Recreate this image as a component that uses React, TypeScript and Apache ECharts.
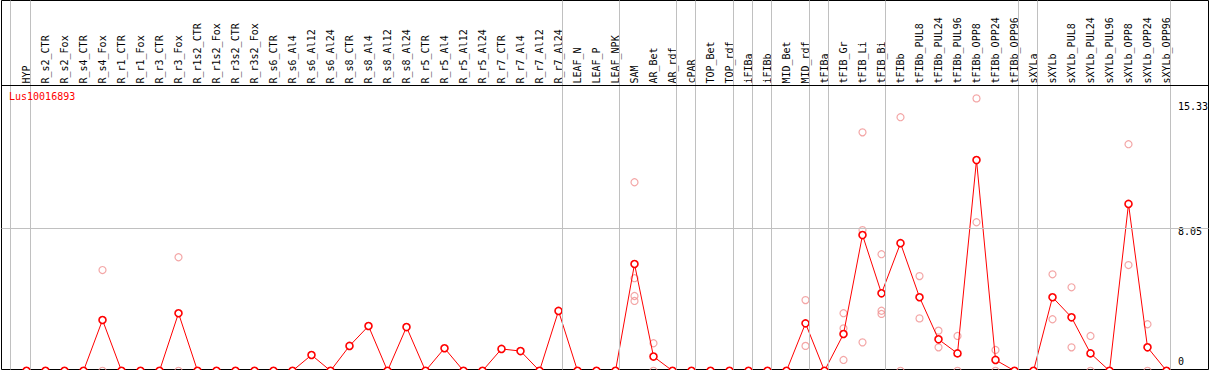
import React, { useEffect, useRef } from "react";
import * as echarts from "echarts";

const title = "Lus10016893";

const categories = [
  "HYP", "R_s2_CTR", "R_s2_Fox", "R_s4_CTR", "R_s4_Fox", "R_r1_CTR", "R_r1_Fox", "R_r3_CTR", "R_r3_Fox", "R_r1s2_CTR",
  "R_r1s2_Fox", "R_r3s2_CTR", "R_r3s2_Fox", "R_s6_CTR", "R_s6_Al4", "R_s6_Al12", "R_s6_Al24", "R_s8_CTR", "R_s8_Al4", "R_s8_Al12",
  "R_s8_Al24", "R_r5_CTR", "R_r5_Al4", "R_r5_Al12", "R_r5_Al24", "R_r7_CTR", "R_r7_Al4", "R_r7_Al12", "R_r7_Al24", "LEAF_N",
  "LEAF_P", "LEAF_NPK", "SAM", "AR_Bet", "AR_rdf", "cPAR", "TOP_Bet", "TOP_rdf", "iFIBa", "iFIBb",
  "MID_Bet", "MID_rdf", "tFIBa", "tFIB_Gr", "tFIB_Li", "tFIB_Bi", "tFIBb", "tFIBb_PUL8", "tFIBb_PUL24", "tFIBb_PUL96",
  "tFIBb_OPP8", "tFIBb_OPP24", "tFIBb_OPP96", "sXYLa", "sXYLb", "sXYLb_PUL8", "sXYLb_PUL24", "sXYLb_PUL96", "sXYLb_OPP8", "sXYLb_OPP24",
  "sXYLb_OPP96",
];

const _ = null;

const means = [
  0, 0, 0, 0, 2.86, 0, 0, 0, 3.24, 0,
  0, 0, 0, 0, 0, 0.89, 0, 1.4, 2.52, 0,
  2.46, 0, 1.27, 0, 0, 1.23, 1.11, 0, 3.37, 0,
  0, 0, 6.01, 0.8, 0, 0, 0, 0, 0, 0,
  0, 2.67, 0, 2.07, 7.64, 4.36, 7.18, 4.14, 1.77, 0.98,
  11.86, 0.61, 0, 0, 4.14, 3.01, 0.98, 0, 9.39, 1.32,
  0,
];

const rep1 = [
  _, _, _, _, 5.67, _, _, _, 6.39, _,
  _, _, _, _, _, _, _, _, _, _,
  _, _, _, _, _, _, _, _, _, _,
  _, _, 10.61, 1.55, _, _, _, _, _, _,
  _, 3.98, _, 3.24, 13.42, 6.56, 14.27, 5.33, 2.26, 1.96,
  15.33, 1.17, _, _, 5.43, 4.7, 1.96, _, 12.75, 2.62,
  _,
];

const rep2 = [
  _, _, _, _, 0, _, _, _, 0, _,
  _, _, _, _, _, _, _, _, _, _,
  _, _, _, _, _, _, _, _, _, _,
  _, _, 5.21, 0, _, _, _, _, _, _,
  _, 1.4, _, 2.39, 7.92, 3.38, 0, 2.95, 1.32, 0,
  8.36, 0, _, _, 2.9, 1.32, 0, _, 5.95, 0,
  _,
];

const rep3 = [
  _, _, _, _, _, _, _, _, _, _,
  _, _, _, _, _, _, _, _, _, _,
  _, _, _, _, _, _, _, _, _, _,
  _, _, 4.21, _, _, _, _, _, _, _,
  _, _, _, 0.61, 1.6, 3.2, _, _, _, _,
  _, _, _, _, _, _, _, _, _, _,
  _,
];

const rep4 = [
  _, _, _, _, _, _, _, _, _, _,
  _, _, _, _, _, _, _, _, _, _,
  _, _, _, _, _, _, _, _, _, _,
  _, _, 3.93, _, _, _, _, _, _, _,
  _, _, _, _, _, _, _, _, _, _,
  _, _, _, _, _, _, _, _, _, _,
  _,
];

// indices of the last category of each group (a separator follows each)
const groupEnds = [-1, 0, 28, 31, 34, 35, 37, 38, 39, 41, 42, 45, 52, 53, 60];

const yTickValues = [0, 8.05, 15.33];
const yTickLabels = ["0", "8.05", "15.33"];
const yGridValue = 8.05;

const FONT = "'DejaVu Sans Mono', monospace";

export default function App() {
  const ref = useRef<HTMLDivElement>(null);

  useEffect(() => {
    document.body.style.margin = "0";
    if (!ref.current) return;
    const chart = echarts.init(ref.current, null, { renderer: "svg" });

    const W = 1209;
    const H = 370;
    const X0 = 26.5;
    const STEP = 19;
    const FRAME_L = 1.5;
    const FRAME_R = 1208.5;
    const PLOT_R = 1170.5;
    const FRAME_T = 0.5;
    const FRAME_B = 369.5;
    const PLOT_T = 85.5;
    const ZERO_Y = 370.8;
    const PX = 17.77;

    const xMin = (FRAME_L - X0) / STEP;
    const xMaxFrame = (FRAME_R - X0) / STEP;
    const xMaxPlot = (PLOT_R - X0) / STEP;
    const yMinFrame = (ZERO_Y - FRAME_B) / PX;
    const yMaxFrame = (ZERO_Y - FRAME_T) / PX;
    const yMaxPlot = (ZERO_Y - PLOT_T) / PX;

    const sepValues = groupEnds.map((g) => (g === -1 ? -16 / STEP : g + 4 / STEP));

    const repData: number[][] = [];
    [rep1, rep2, rep3, rep4].forEach((r) =>
      r.forEach((v, i) => {
        if (v !== null && v !== undefined) repData.push([i, v as number]);
      })
    );
    const meanData = means.map((v, i) => [i, v]);

    const shifts = ["c", "b", "a"];

    chart.setOption({
      animation: false,
      backgroundColor: "#fff",
      title: {
        text: title,
        left: 9,
        top: 91,
        padding: 0,
        textStyle: { color: "#ff0000", fontSize: 10, fontWeight: "normal", fontFamily: FONT },
      },
      grid: [
        {
          left: FRAME_L,
          top: FRAME_T,
          width: FRAME_R - FRAME_L,
          height: FRAME_B - FRAME_T,
          show: true,
          borderColor: "#000",
          borderWidth: 1,
          backgroundColor: "transparent",
          outerBoundsMode: "none",
        },
        {
          left: FRAME_L,
          top: PLOT_T,
          width: PLOT_R - FRAME_L,
          height: ZERO_Y - PLOT_T,
          show: false,
          outerBoundsMode: "none",
        },
      ],
      xAxis: [
        {
          gridIndex: 0,
          type: "value",
          min: xMin,
          max: xMaxFrame,
          show: false,
        },
        {
          gridIndex: 1,
          type: "value",
          position: "top",
          min: xMin,
          max: xMaxPlot,
          axisLine: { show: false },
          axisTick: { show: false },
          splitLine: { show: false },
          axisLabel: {
            customValues: categories.map((_c, i) => i),
            formatter: (v: number) => categories[Math.round(v)] ?? "",
            rotate: 90,
            margin: 2,
            color: "#000",
            fontSize: 10,
            fontFamily: FONT,
          },
        },
      ],
      yAxis: [
        {
          gridIndex: 0,
          type: "value",
          min: yMinFrame,
          max: yMaxFrame,
          show: false,
        },
        {
          gridIndex: 1,
          type: "value",
          position: "right",
          min: 0,
          max: yMaxPlot,
          axisLine: { show: false },
          axisTick: { show: false },
          splitLine: { show: false },
          axisLabel: {
            customValues: yTickValues,
            margin: 7.5,
            color: "#000",
            fontSize: 10,
            fontFamily: FONT,
            formatter: (v: number) => {
              const k = yTickValues.indexOf(v);
              return "{" + shifts[k] + "|" + yTickLabels[k] + "}";
            },
            rich: {
              a: { padding: [17, 0, 0, 0], fontSize: 10, fontFamily: FONT, color: "#000" },
              b: { padding: [8, 0, 0, 0], fontSize: 10, fontFamily: FONT, color: "#000" },
              c: { padding: [0, 0, 18, 0], fontSize: 10, fontFamily: FONT, color: "#000" },
            },
          },
        },
      ],
      series: [
        {
          type: "line",
          xAxisIndex: 0,
          yAxisIndex: 0,
          data: [[0, yMinFrame]],
          symbol: "none",
          lineStyle: { opacity: 0 },
          silent: true,
          z: 1,
          markLine: {
            silent: true,
            symbol: ["none", "none"],
            label: { show: false },
            animation: false,
            data: [
              ...sepValues.map((v) => ({ xAxis: v, lineStyle: { color: "#c0c0c0", width: 1, type: "solid" } })),
              { yAxis: (ZERO_Y - (ZERO_Y - yGridValue * PX)) / PX, lineStyle: { color: "#c0c0c0", width: 1, type: "solid" } },
              { yAxis: yMaxPlot, lineStyle: { color: "#000", width: 1, type: "solid" } },
            ],
          },
        },
        {
          type: "scatter",
          xAxisIndex: 1,
          yAxisIndex: 1,
          data: repData,
          symbol: "circle",
          symbolSize: 7,
          itemStyle: { color: "rgba(0,0,0,0)", borderColor: "#f09090", borderWidth: 1.2 },
          z: 2,
          silent: true,
        },
        {
          type: "line",
          xAxisIndex: 1,
          yAxisIndex: 1,
          data: meanData,
          symbol: "circle",
          symbolSize: 7,
          showAllSymbol: true,
          lineStyle: { color: "#ff0000", width: 1 },
          itemStyle: { color: "#fff", borderColor: "#ff0000", borderWidth: 1.6 },
          z: 3,
          silent: true,
        },
      ],
    });

    return () => chart.dispose();
  }, []);

  return <div ref={ref} style={{ width: 1209, height: 370 }} />;
}
